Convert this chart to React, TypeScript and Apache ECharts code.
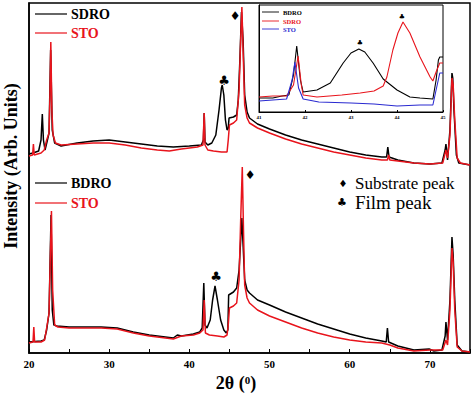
import React, { useEffect, useRef } from "react";
import * as echarts from "echarts";

// Main panel: x = 2θ (deg), y = intensity (arb. units, upper set offset above lower set)
const sdroUpper: [number, number][] = [
  [20.0, 199], [20.5, 200], [21.2, 202], [21.5, 213], [21.66, 239], [21.8, 213], [22.0, 203],
  [22.3, 213], [22.5, 220], [22.7, 303], [22.9, 223], [23.2, 210], [24, 207], [26, 210],
  [28, 212], [30, 213], [32, 211], [34, 209], [36, 207], [38, 206], [40, 207], [41.5, 208],
  [41.75, 213], [41.85, 240], [41.95, 211], [42.3, 208], [42.8, 210], [43.3, 218], [43.7, 243],
  [44.0, 265], [44.1, 268], [44.3, 258], [44.5, 233], [44.7, 223], [44.85, 225], [44.95, 235],
  [45.5, 236], [45.9, 238], [46.1, 253], [46.3, 293], [46.5, 341], [46.7, 313], [46.9, 258],
  [47.2, 241], [47.5, 235], [48.5, 229], [50, 224], [52, 218], [54, 213], [56, 209], [58, 205],
  [60, 201], [62, 198], [64, 196], [64.6, 196], [64.75, 206], [64.9, 196], [66, 193], [68, 190],
  [70, 189], [71.5, 190], [71.9, 203], [72.0, 209], [72.2, 193], [72.5, 223], [72.75, 280],
  [72.85, 275], [73.0, 243], [73.3, 198], [73.6, 190], [75, 188],
];
const stoUpper: [number, number][] = [
  [20.0, 197], [20.45, 198], [20.55, 209], [20.65, 198], [21.5, 200], [21.9, 203], [22.2, 213],
  [22.5, 220], [22.6, 253], [22.72, 311], [22.85, 243], [23.0, 218], [23.3, 210], [24, 208],
  [26, 209], [28, 210], [30, 210], [32, 208], [34, 205], [36, 203], [37.5, 202], [39, 204],
  [41, 206], [41.7, 208], [41.85, 240], [41.95, 208], [42.3, 203], [43, 202], [44, 201],
  [44.7, 201], [44.85, 213], [45.0, 228], [45.5, 230], [45.9, 233], [46.2, 263], [46.4, 313],
  [46.55, 346], [46.7, 303], [46.9, 248], [47.2, 235], [47.5, 230], [48.5, 225], [50, 220],
  [52, 214], [54, 209], [56, 205], [58, 201], [60, 198], [62, 195], [64, 193], [64.7, 193],
  [64.85, 198], [65, 193], [66, 192], [68, 190], [70, 189], [71.6, 190], [72.0, 203], [72.2, 195],
  [72.5, 218], [72.75, 275], [72.9, 268], [73.1, 233], [73.4, 195], [73.8, 190], [75, 188],
];
const bdroLower: [number, number][] = [
  [20.0, 11], [21.5, 12], [21.9, 13], [22.2, 23], [22.5, 40], [22.75, 138], [22.9, 43],
  [23.1, 28], [23.5, 27], [25, 26], [27, 26], [29, 26], [31, 25], [33, 21], [35, 18], [37, 16],
  [38, 15], [38.5, 18], [39, 17], [40.5, 19], [41.3, 21], [41.6, 25], [41.8, 70], [41.95, 28],
  [42.2, 25], [42.6, 33], [42.9, 53], [43.2, 67], [43.5, 53], [43.9, 33], [44.3, 23], [44.6, 20],
  [44.8, 23], [44.9, 58], [45.5, 61], [45.9, 65], [46.2, 83], [46.4, 113], [46.55, 135],
  [46.7, 108], [46.9, 73], [47.2, 63], [47.5, 60], [48.5, 53], [50, 48], [52, 41], [54, 35],
  [56, 29], [58, 24], [60, 19], [62, 15], [64, 12], [64.55, 11], [64.7, 25], [64.85, 11],
  [66, 7], [68, 3], [69.9, 4], [70.5, 2], [71.5, 3], [71.9, 17], [72.0, 31], [72.2, 13],
  [72.5, 53], [72.75, 116], [72.9, 98], [73.1, 53], [73.4, 8], [74, 2], [75, 1],
];
const stoLower: [number, number][] = [
  [20.0, 10], [20.5, 11], [20.6, 26], [20.7, 11], [21.5, 11], [21.95, 13], [22.2, 25],
  [22.5, 40], [22.65, 93], [22.8, 142], [22.95, 63], [23.2, 28], [23.6, 26], [25, 25], [27, 25],
  [29, 25], [31, 24], [33, 20], [35, 17], [37, 15], [38, 14], [39, 17], [40.5, 18], [41.3, 20],
  [41.7, 23], [41.85, 53], [42.0, 20], [42.5, 18], [43.5, 17], [44.3, 16], [44.7, 18],
  [44.85, 28], [45.0, 45], [45.5, 47], [45.9, 50], [46.2, 73], [46.4, 133], [46.6, 186],
  [46.75, 123], [46.9, 68], [47.2, 55], [47.5, 50], [48.5, 43], [50, 37], [52, 31], [54, 25],
  [56, 20], [58, 16], [60, 13], [62, 11], [64, 10], [65, 8], [66, 5], [68, 2], [70, 3],
  [71.6, 3], [72.0, 13], [72.2, 8], [72.5, 43], [72.75, 105], [72.9, 91], [73.1, 43],
  [73.4, 6], [74, 2], [75, 1],
];

// Inset: 2θ 41–45
const insetBdro: [number, number][] = [
  [41.0, 14], [41.3, 14], [41.5, 16], [41.65, 17], [41.75, 37], [41.82, 66], [41.9, 32],
  [41.96, 20], [42.26, 22], [42.55, 29], [42.83, 49], [43.0, 59], [43.17, 63], [43.3, 60],
  [43.48, 49], [43.7, 33], [44.0, 22], [44.28, 15], [44.5, 14], [44.78, 13], [44.85, 32],
  [44.9, 52], [44.93, 55], [45.0, 55],
];
const insetSdro: [number, number][] = [
  [41.0, 15], [41.3, 16], [41.6, 16], [41.75, 27], [41.85, 56], [41.92, 27], [41.96, 17],
  [42.26, 15], [42.8, 17], [43.2, 19], [43.5, 21], [43.7, 26], [43.78, 35], [43.91, 62],
  [44.02, 79], [44.13, 90], [44.28, 79], [44.5, 55], [44.72, 35], [44.78, 31], [44.85, 40],
  [44.93, 49], [45.0, 49],
];
const insetSto: [number, number][] = [
  [41.0, 11], [41.3, 12], [41.6, 13], [41.72, 32], [41.78, 50], [41.86, 24], [41.96, 13],
  [42.3, 10], [43.0, 9], [43.5, 8], [44.0, 6], [44.5, 7], [44.78, 7], [44.85, 22], [44.93, 39],
  [45.0, 39],
];

const mainTicks = [20, 30, 40, 50, 60, 70];
const insetTicks = [41, 42, 43, 44, 45];

const RED = "#e8141c";
const BLUE = "#2a2ad0";
const SERIF = "Liberation Serif, Times New Roman, serif";
const SYM = "DejaVu Sans, sans-serif";

export default function App() {
  const ref = useRef<HTMLDivElement>(null);
  useEffect(() => {
    if (!ref.current) return;
    const chart = echarts.init(ref.current, undefined, { renderer: "svg" });
    const line = (name: string, data: [number, number][], color: string, idx: number) => ({
      name,
      type: "line",
      data,
      xAxisIndex: idx,
      yAxisIndex: idx,
      showSymbol: false,
      symbol: "none",
      lineStyle: { color, width: idx === 0 ? 1.5 : 1.1 },
      z: 3,
    });
    const legendItem = (x: number, y: number, label: string, color: string, size: number, len: number, lw: number) => [
      { type: "line", shape: { x1: x, y1: y, x2: x + len, y2: y }, style: { stroke: color, lineWidth: lw }, z: 10 },
      {
        type: "text",
        x: x + len + 4,
        y,
        style: { text: label, fill: color, font: `bold ${size}px ${SERIF}`, verticalAlign: "middle", align: "left" },
        z: 10,
      },
    ];
    const sym = (x: number, y: number, ch: string, size: number) => ({
      type: "text",
      x,
      y,
      style: { text: ch, fill: "#000", font: `${size}px ${SYM}`, align: "center", verticalAlign: "middle" },
      z: 10,
    });
    chart.setOption({
      animation: false,
      backgroundColor: "#fff",
      grid: [
        { left: 29, top: 3, right: 4, bottom: 42, show: true, borderColor: "#000", borderWidth: 1.5 },
        { left: 259, top: 5, width: 184, height: 107, show: true, borderColor: "#000", borderWidth: 1, backgroundColor: "#fff" },
      ],
      xAxis: [
        {
          type: "value",
          gridIndex: 0,
          min: 20,
          max: 75,
          interval: 5,
          axisLine: { lineStyle: { color: "#000", width: 1.5 } },
          axisTick: { inside: true, length: 4, lineStyle: { color: "#000" } },
          axisLabel: {
            margin: 5,
            color: "#000",
            fontSize: 11,
            fontWeight: "bold",
            fontFamily: SERIF,
            formatter: (v: number) => (mainTicks.includes(v) ? String(v) : ""),
          },
          splitLine: { show: false },
        },
        {
          type: "value",
          gridIndex: 1,
          min: 41,
          max: 45,
          interval: 1,
          axisLine: { lineStyle: { color: "#000", width: 1 } },
          axisTick: { inside: true, length: 2, lineStyle: { color: "#000" } },
          axisLabel: {
            margin: 3,
            color: "#000",
            fontSize: 5,
            fontWeight: "bold",
            fontFamily: SERIF,
            formatter: (v: number) => (insetTicks.includes(v) ? String(v) : ""),
          },
          splitLine: { show: false },
        },
      ],
      yAxis: [
        {
          type: "value",
          gridIndex: 0,
          min: 0,
          max: 350,
          axisLine: { show: true, lineStyle: { color: "#000", width: 1.5 } },
          axisTick: { show: false },
          axisLabel: { show: false },
          splitLine: { show: false },
        },
        {
          type: "value",
          gridIndex: 1,
          min: 0,
          max: 107,
          axisLine: { show: true, lineStyle: { color: "#000", width: 1 } },
          axisTick: { show: false },
          axisLabel: { show: false },
          splitLine: { show: false },
        },
      ],
      series: [
        line("SDRO", sdroUpper, "#000", 0),
        line("STO", stoUpper, RED, 0),
        line("BDRO", bdroLower, "#000", 0),
        line("STO ", stoLower, RED, 0),
        line("BDRO inset", insetBdro, "#000", 1),
        line("SDRO inset", insetSdro, RED, 1),
        line("STO inset", insetSto, BLUE, 1),
      ],
      graphic: [
        ...legendItem(35, 14, "SDRO", "#000", 14, 32, 1.2),
        ...legendItem(35, 33, "STO", RED, 14, 32, 1.2),
        ...legendItem(35, 183, "BDRO", "#000", 14, 32, 1.2),
        ...legendItem(35, 203, "STO", RED, 14, 32, 1.2),
        ...legendItem(262, 12, "BDRO", "#000", 6.5, 17, 0.9),
        ...legendItem(262, 21, "SDRO", RED, 6.5, 17, 0.9),
        ...legendItem(262, 29, "STO", BLUE, 6.5, 17, 0.9),
        sym(235, 16, "♦", 12),
        sym(224, 80, "♣", 13),
        sym(250, 175, "♦", 12),
        sym(216, 276, "♣", 13),
        sym(360, 43, "♣", 7),
        sym(402, 17, "♣", 7),
        sym(343, 183, "♦", 10),
        sym(342, 202, "♣", 11),
        {
          type: "text",
          x: 355,
          y: 183,
          style: { text: "Substrate peak", fill: "#000", font: `17px ${SERIF}`, align: "left", verticalAlign: "middle" },
          z: 10,
        },
        {
          type: "text",
          x: 355,
          y: 202,
          style: { text: "Film peak", fill: "#000", font: `19px ${SERIF}`, align: "left", verticalAlign: "middle" },
          z: 10,
        },
        {
          type: "text",
          x: 11,
          y: 166,
          rotation: Math.PI / 2,
          style: {
            text: "Intensity (Arb. Units)",
            fill: "#000",
            font: `bold 18px ${SERIF}`,
            align: "center",
            verticalAlign: "middle",
          },
          z: 10,
        },
        {
          type: "text",
          x: 236,
          y: 383,
          style: {
            text: "{a|2θ (}{b|0}{a|)}",
            fill: "#000",
            align: "center",
            verticalAlign: "middle",
            rich: {
              a: { fontSize: 18, fontWeight: "bold", fontFamily: SERIF, fill: "#000" },
              b: { fontSize: 11, fontWeight: "bold", fontFamily: SERIF, fill: "#000", verticalAlign: "top" },
            },
          },
          z: 10,
        },
      ],
    });
    return () => chart.dispose();
  }, []);
  return <div ref={ref} style={{ position: "fixed", left: 0, top: 0, width: 474, height: 395 }} />;
}
